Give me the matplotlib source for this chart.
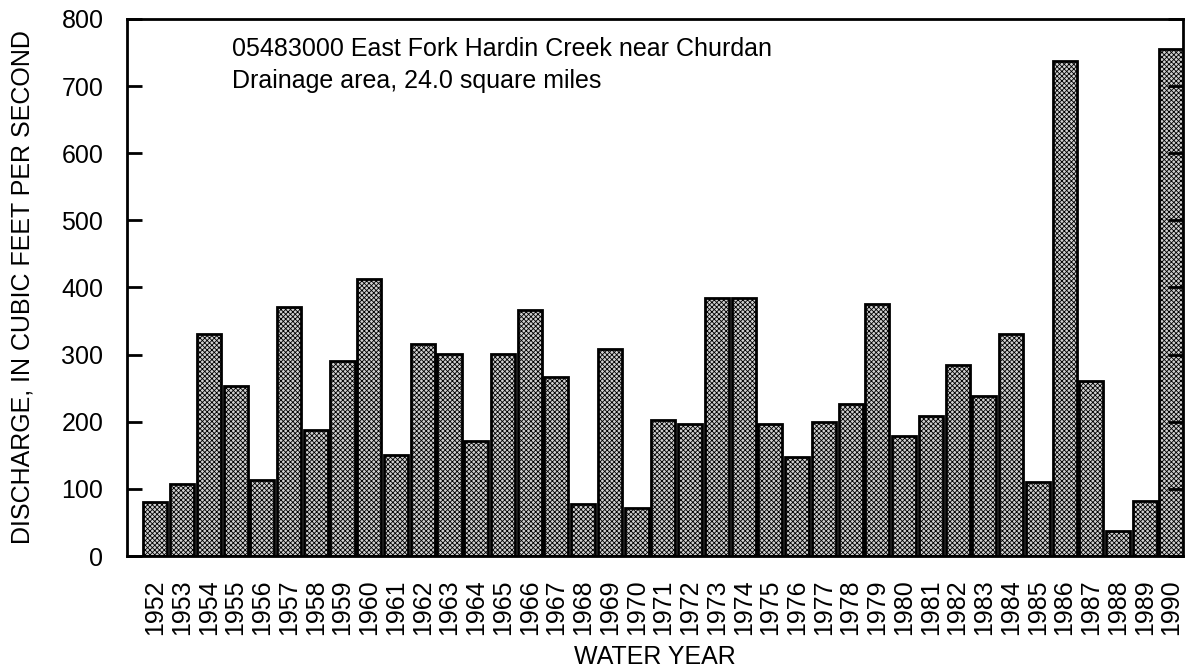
import matplotlib
matplotlib.use("Agg")
import matplotlib.pyplot as plt
import numpy as np

years = [str(y) for y in range(1952, 1991)]
discharge = [80, 107, 330, 254, 113, 371, 188, 290, 412, 151,
             316, 301, 172, 301, 367, 266, 78, 308, 71, 202,
             196, 385, 385, 196, 147, 199, 227, 376, 179, 209,
             284, 239, 331, 110, 737, 261, 37, 82, 755]
yticks = [0, 100, 200, 300, 400, 500, 600, 700, 800]
title_lines = ["05483000 East Fork Hardin Creek near Churdan",
               "Drainage area, 24.0 square miles"]

plt.rcParams['font.family'] = ['Liberation Sans', 'DejaVu Sans']
plt.rcParams['hatch.linewidth'] = 0.6
plt.rcParams['hatch.color'] = '#202020'

fig = plt.figure(figsize=(11.94, 6.72), dpi=100)
ax = fig.add_axes([127/1194, 1-556/672, (1183-127)/1194, (556-19)/672])

x = np.arange(len(years))
ax.bar(x, discharge, width=0.9, color='#d0d0d0', edgecolor='black',
       linewidth=2.0, hatch='xxxxxxx')

ax.set_xlim(-1.06, len(years) - 1 + 0.43)
ax.set_ylim(0, 800)
ax.set_yticks(yticks)
ax.set_yticklabels([str(v) for v in yticks], fontsize=18)
ax.set_xticks(x)
ax.set_xticklabels(years, rotation=90, fontsize=18)
ax.tick_params(axis='x', length=0, pad=17)
ax.tick_params(axis='y', direction='in', length=11, width=2, right=True, pad=17)
for s in ax.spines.values():
    s.set_linewidth(2)

ax.set_ylabel("DISCHARGE, IN CUBIC FEET PER SECOND", fontsize=18, labelpad=19)
ax.set_xlabel("WATER YEAR", fontsize=18, labelpad=7)

fig.text(232/1194, 1-37/672, title_lines[0], fontsize=18, va='top', ha='left')
fig.text(232/1194, 1-69/672, title_lines[1], fontsize=18, va='top', ha='left')

fig.savefig("out.png", dpi=100)
